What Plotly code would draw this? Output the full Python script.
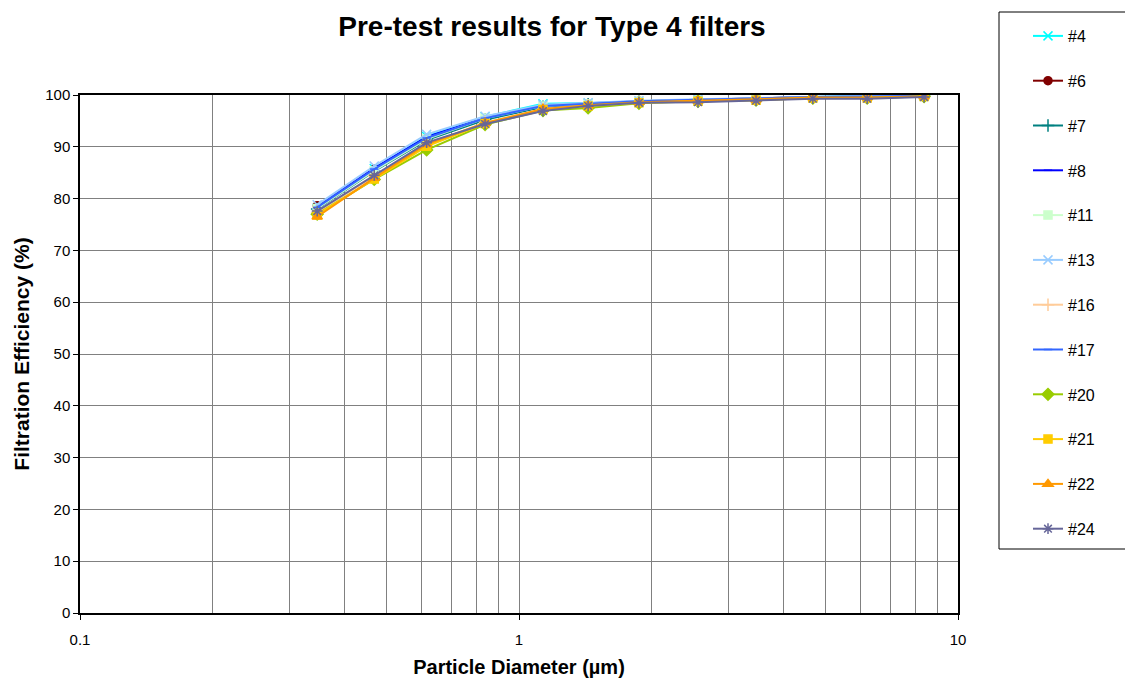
import plotly.graph_objects as go

diameters = [0.347, 0.468, 0.616, 0.837, 1.134, 1.437, 1.876, 2.557, 3.467, 4.67, 6.21, 8.37]

series_names = ["#4", "#6", "#7", "#8", "#11", "#13", "#16", "#17", "#20", "#21", "#22", "#24"]

eff_4 = [78.2, 85.8, 92.0, 95.8, 98.3, 98.4, 98.6, 99.0, 99.3, 99.6, 99.9, 99.8]
eff_6 = [78.6, 85.6, 91.6, 95.4, 97.8, 98.3, 98.8, 99.1, 99.3, 99.6, 99.6, 99.8]
eff_7 = [78.0, 85.3, 91.3, 95.2, 97.7, 98.2, 98.7, 99.0, 99.3, 99.5, 99.6, 99.8]
eff_8 = [78.5, 85.9, 91.9, 95.6, 97.9, 98.4, 98.8, 99.1, 99.4, 99.6, 99.7, 99.9]
eff_11 = [78.1, 85.4, 91.5, 95.5, 97.9, 98.3, 98.8, 99.1, 99.4, 99.6, 99.7, 99.8]
eff_13 = [78.8, 86.3, 92.4, 95.9, 98.1, 98.5, 98.9, 99.2, 99.4, 99.7, 99.8, 99.9]
eff_16 = [77.3, 84.4, 90.4, 94.7, 97.3, 98.0, 98.5, 98.9, 99.1, 99.4, 99.5, 99.7]
eff_17 = [78.3, 85.7, 91.7, 95.5, 97.9, 98.3, 98.8, 99.1, 99.4, 99.6, 99.7, 99.8]
eff_20 = [77.0, 83.7, 89.4, 94.3, 97.0, 97.5, 98.4, 98.8, 99.0, 99.4, 99.4, 99.7]
eff_21 = [76.9, 83.8, 90.1, 94.5, 97.2, 97.9, 98.5, 98.8, 99.0, 99.4, 99.4, 99.7]
eff_22 = [76.5, 84.0, 90.5, 94.6, 97.3, 98.0, 98.6, 98.9, 99.1, 99.5, 99.5, 99.7]
eff_24 = [77.6, 84.5, 90.8, 94.4, 96.9, 97.9, 98.5, 98.6, 98.9, 99.3, 99.3, 99.6]

all_eff = [eff_4, eff_6, eff_7, eff_8, eff_11, eff_13, eff_16, eff_17, eff_20, eff_21, eff_22, eff_24]

colors = ["#00FFFF", "#800000", "#008080", "#0000FF", "#CCFFCC", "#99CCFF",
          "#FFCC99", "#3366FF", "#99CC00", "#FFCC00", "#FF9900", "#666699"]
symbols = ["x-thin-open", "circle", "cross-thin-open", "line-ew-open", "square", "x-thin-open",
           "cross-thin-open", "line-ew-open", "diamond", "square", "triangle-up", "asterisk-open"]
sizes = [9, 8, 9, 6, 8, 9, 9, 6, 9, 8, 9, 9]

fig = go.Figure()
for name, eff, c, s, sz in zip(series_names, all_eff, colors, symbols, sizes):
    fig.add_trace(go.Scatter(
        x=diameters, y=eff, name=name, mode="lines+markers",
        line=dict(color=c, width=2),
        marker=dict(color=c, symbol=s, size=sz, line=dict(color=c, width=1.5)),
        legendgroup=name,
    ))

font_family = "Liberation Sans, Arial, sans-serif"

L, R, T, B = 80, 958, 95, 613
PW, PH = R - L, B - T

def px_x(p):
    return (p - L) / PW

def px_y(p):
    return (B - p) / PH

fig.add_shape(type="rect", xref="paper", yref="paper",
              x0=px_x(999), x1=px_x(1135), y0=px_y(549), y1=px_y(12),
              line=dict(color="black", width=1), fillcolor="white", layer="below")

fig.update_layout(
    width=1125, height=683,
    margin=dict(l=L, r=1125 - R, t=T, b=683 - B, autoexpand=False),
    paper_bgcolor="white", plot_bgcolor="white",
    font=dict(family=font_family, size=15, color="black"),
    title=dict(text="<b>Pre-test results for Type 4 filters</b>",
               font=dict(size=28, family=font_family),
               x=552 / 1125, xanchor="center",
               y=1 - 26 / 683, yanchor="middle"),
    showlegend=True,
    legend=dict(x=px_x(1028), xanchor="left", y=px_y(19), yanchor="top",
                borderwidth=0, bgcolor="rgba(0,0,0,0)",
                font=dict(size=16, family=font_family),
                tracegroupgap=21, itemwidth=30, maxheight=620),
    xaxis=dict(type="log", range=[-1, 1], dtick=1, automargin=False,
               showgrid=True, gridcolor="#808080", gridwidth=1,
               minor=dict(dtick="D1", showgrid=True, gridcolor="#808080", gridwidth=1, ticks=""),
               showline=True, linecolor="black", linewidth=1.5, mirror=True,
               ticks="outside", ticklen=5, tickcolor="black",
               tickvals=[0.1, 1, 10], ticktext=["0.1", "1", "10"],
               ticklabelstandoff=7,
               title=dict(text="<b>Particle Diameter (µm)</b>", font=dict(size=20), standoff=13),
               zeroline=False),
    yaxis=dict(range=[0, 100], dtick=10, automargin=False,
               showgrid=True, gridcolor="#808080", gridwidth=1,
               showline=True, linecolor="black", linewidth=1.5, mirror=True,
               ticks="outside", ticklen=5, tickcolor="black",
               title=dict(text="<b>Filtration Efficiency (%)</b>", font=dict(size=21), standoff=10),
               zeroline=False),
)

fig.write_html("out.html")
